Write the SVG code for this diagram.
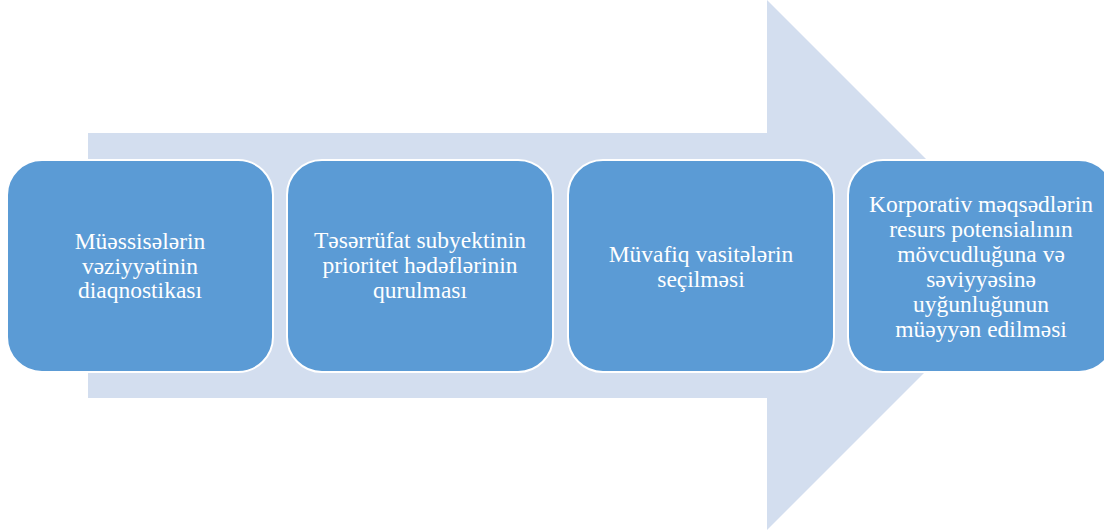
<svg xmlns="http://www.w3.org/2000/svg" width="1104" height="530" viewBox="0 0 1104 530">
<style>
.box{fill:#5B9BD5;stroke:#FFFFFF;stroke-width:2}
.lbl{font-family:"Liberation Serif","Times New Roman",serif;font-size:23.5px;fill:#FFFFFF;text-anchor:middle}
</style>
<rect width="1104" height="530" fill="#FFFFFF"/>
<g id="connectors">
<polygon id="big-arrow" points="88,133 767,133 767,0 1032,265 767,530 767,398 88,398" fill="#D3DEEF"/>
</g>
<g id="node1">
<rect class="box" x="7" y="160" width="266" height="212" rx="35" ry="35"/>
<text class="lbl"><tspan x="140" y="249">Müəssisələrin</tspan><tspan x="140" y="274">vəziyyətinin</tspan><tspan x="140" y="298">diaqnostikası</tspan></text>
</g>
<g id="node2">
<rect class="box" x="287" y="160" width="266" height="212" rx="35" ry="35"/>
<text class="lbl"><tspan x="420" y="248">Təsərrüfat subyektinin</tspan><tspan x="420" y="273">prioritet hədəflərinin</tspan><tspan x="420" y="298">qurulması</tspan></text>
</g>
<g id="node3">
<rect class="box" x="568" y="160" width="266" height="212" rx="35" ry="35"/>
<text class="lbl"><tspan x="701" y="262">Müvafiq vasitələrin</tspan><tspan x="701" y="287">seçilməsi</tspan></text>
</g>
<g id="node4">
<rect class="box" x="848" y="160" width="266" height="212" rx="35" ry="35"/>
<text class="lbl"><tspan x="981" y="212">Korporativ məqsədlərin</tspan><tspan x="981" y="237">resurs potensialının</tspan><tspan x="981" y="262">mövcudluğuna və</tspan><tspan x="981" y="287">səviyyəsinə</tspan><tspan x="981" y="312">uyğunluğunun</tspan><tspan x="981" y="337">müəyyən edilməsi</tspan></text>
</g>
</svg>
